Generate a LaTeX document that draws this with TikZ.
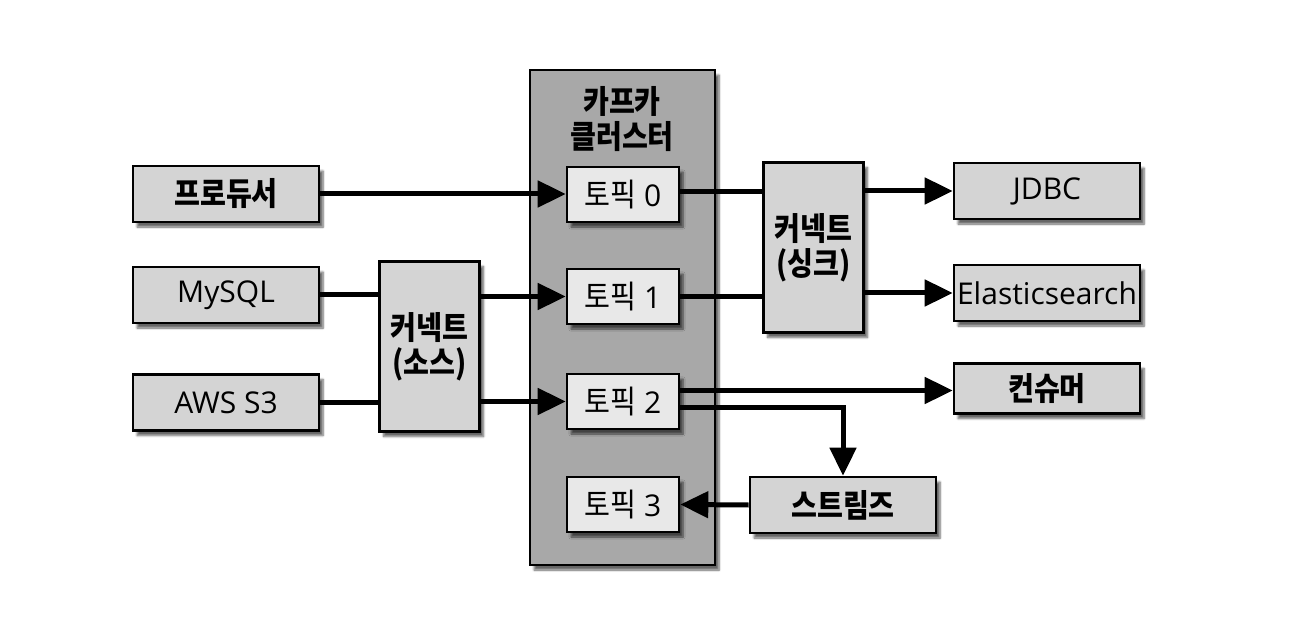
\documentclass[tikz,border=0pt]{standalone}
\usepackage{fontspec}
\setmainfont{Open Sans}
\newfontfamily\kr{Noto Sans CJK KR}[FakeStretch=0.88]
\usetikzlibrary{arrows.meta,shadows.blur,calc}
\definecolor{boxgray}{HTML}{D4D4D4}
\definecolor{topicgray}{HTML}{E8E8E8}
\definecolor{clustergray}{HTML}{A8A8A8}
\begin{document}
\begin{tikzpicture}[x=1pt,y=-1pt,
  base/.style={draw=black,line width=2.6pt,rectangle,inner sep=0pt,
    blur shadow={shadow xshift=4pt,shadow yshift=-5pt,shadow blur steps=6,shadow opacity=60},
    font=\fontsize{30}{34}\selectfont,align=center},
  krb/.style={font=\fontsize{32}{35}\selectfont\kr\bfseries},
  ext/.style={base,fill=boxgray,minimum width=186pt,minimum height=56pt},
  topic/.style={base,fill=topicgray,minimum width=112pt,minimum height=55pt},
  conn/.style={base,fill=boxgray,minimum width=100pt,minimum height=170pt},
  arr/.style={line width=5pt,-{Triangle[length=28pt,width=26pt]}},
  ln/.style={line width=5pt}]
\useasboundingbox (0,0) rectangle (1306,620);
% cluster
\node[base,fill=clustergray,minimum width=185pt,minimum height=495pt] (cluster) at (622.5,317.5) {};
\node[krb,align=center] (clabel) at (622,119) {카프카\\클러스터};
% topics
\node[topic] (t0) at (623,194.5) {{\fontsize{32}{34}\selectfont\kr 토픽} 0};
\node[topic] (t1) at (623,296.5) {{\fontsize{32}{34}\selectfont\kr 토픽} 1};
\node[topic] (t2) at (623,401.5) {{\fontsize{32}{34}\selectfont\kr 토픽} 2};
\node[topic] (t3) at (623,504.5) {{\fontsize{32}{34}\selectfont\kr 토픽} 3};
% left
\node[ext,krb] (prod) at (226,194) {프로듀서};
\node[ext] (mysql) at (226,295) {MySQL};
\node[ext] (aws) at (226,402.5) {AWS S3};
\node[conn,krb] (src) at (429.5,346.5) {커넥트\\(소스)};
% right
\node[conn,krb] (sink) at (813.5,247.5) {커넥트\\(싱크)};
\node[ext] (jdbc) at (1047,191) {JDBC};
\node[ext] (es) at (1047,293) {Elasticsearch};
\node[ext,minimum height=50pt,krb] (cons) at (1047,388.5) {컨슈머};
\node[ext,krb] (streams) at (843,505) {스트림즈};
% connectors
\draw[arr] (prod.east) -- (prod.east -| t0.west);
\draw[ln] (mysql.east) -- (mysql.east -| src.west);
\draw[ln] (aws.east) -- (aws.east -| src.west);
\draw[arr] (src.east |- t1.west) -- (t1.west);
\draw[arr] (src.east |- t2.west) -- (t2.west);
\coordinate (t0r) at ([yshift=3pt]t0.east);
\draw[ln] (t0r) -- (t0r -| sink.west);
\draw[ln] (t1.east) -- (t1.east -| sink.west);
\draw[arr] (sink.east |- jdbc.west) -- (jdbc.west);
\draw[arr] (sink.east |- es.west) -- (es.west);
\coordinate (t2a) at ([yshift=11pt]t2.east);
\coordinate (t2b) at ([yshift=-6pt]t2.east);
\draw[arr] (t2a) -- (t2a -| cons.west);
\draw[arr] (t2b) -| (streams.north);
\draw[arr] (streams.west) -- (t3.east);
\end{tikzpicture}
\end{document}
